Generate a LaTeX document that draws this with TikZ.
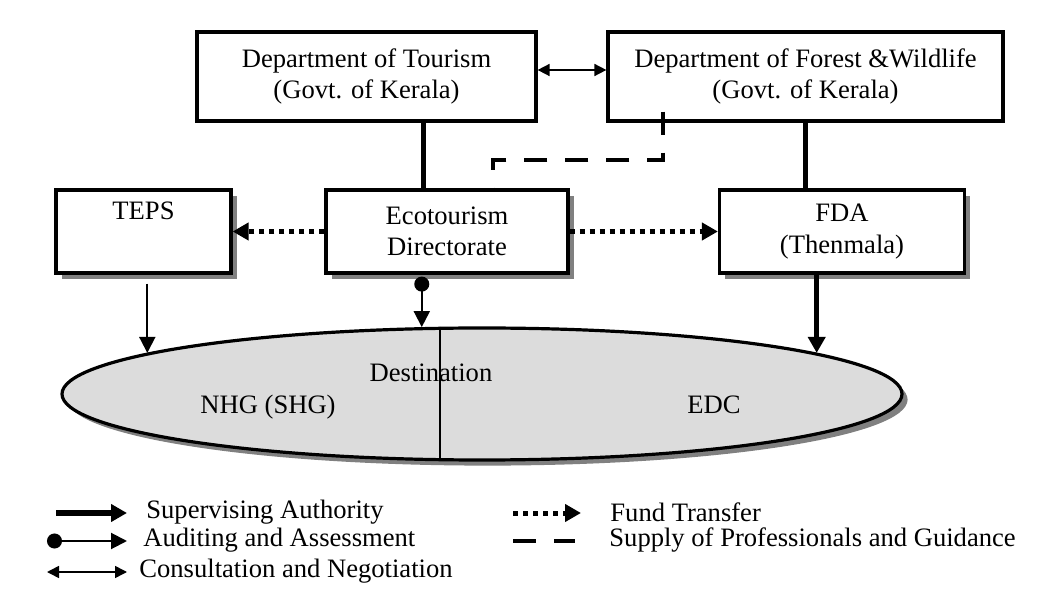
\documentclass[tikz,border=0pt]{standalone}
\usepackage{fontspec}
\setmainfont{Liberation Serif}
\usetikzlibrary{arrows.meta,positioning,calc,shapes.geometric,shadows}
\definecolor{destgray}{RGB}{220,220,220}

\begin{document}
\begin{tikzpicture}[x=0.5pt,y=-0.5pt,>=Latex,
 font=\fontsize{13.3}{15.8}\selectfont,
 deptbox/.style={draw,line width=1.6pt,align=center,minimum height=44.5pt,inner sep=2pt},
 unitbox/.style={deptbox,fill=white,minimum height=41.5pt,
   drop shadow={shadow xshift=2.8pt,shadow yshift=-2.8pt,fill=gray,opacity=1}},
 plain/.style={line width=2.5pt},
 super/.style={line width=2.5pt,-{Triangle[length=8pt,width=8.5pt]}},
 report/.style={line width=1pt,-{Triangle[length=8pt,width=8pt]}},
 audit/.style={line width=1pt,{Circle[length=7.5pt,width=7.5pt]}-{Triangle[length=8pt,width=8pt]}},
 consult/.style={line width=0.8pt,{Triangle[length=6pt,width=6pt]}-{Triangle[length=6pt,width=6pt]}},
 fund/.style={line width=2.5pt,dash pattern=on 2.5pt off 2.5pt,-{Triangle[length=8pt,width=8.5pt]}},
 supply/.style={line width=2pt,dash pattern=on 11.5pt off 9pt},
 legtext/.style={anchor=west,inner sep=0pt}]
\useasboundingbox (0,0) rectangle (1063,613);
% departments
\node[deptbox,minimum width=169.5pt] (tourism) at (366.5,76.5) {Department of Tourism\\(Govt. of Kerala)};
\node[deptbox,minimum width=197.5pt] (forest) at (805.5,76.5) {Department of Forest \&Wildlife\\(Govt. of Kerala)};
% second row
\node[unitbox,minimum width=87.5pt] (teps) at (143.5,231.5) {TEPS\\\strut};
\node[unitbox,minimum width=121pt] (eco) at (447,231.5) {Ecotourism\\Directorate};
\node[unitbox,minimum width=122.5pt] (fda) at (842,231.5) {FDA\\(Thenmala)};
% destination
\node[ellipse,draw,line width=1.6pt,fill=destgray,minimum width=420pt,minimum height=66pt,inner sep=0pt,
  drop shadow={shadow xshift=2.8pt,shadow yshift=-2.8pt,fill=gray,opacity=1}] (dest) at (482,394) {};
\draw[line width=1.4pt] (dest.122.6) -- (dest.-122.6);
\node (destlabel) at (431,373) {Destination};
\node (nhg) at (268,407) {NHG (SHG)};
\node (edc) at (714,405) {EDC};
\coordinate (tepstip) at (dest.173.95);
\coordinate (audittip) at (dest.132.07);
\coordinate (fdatip) at (dest.7.33);
% connectors
\draw[consult] ([yshift=3.25pt]tourism.east) -- ([yshift=3.25pt]forest.west);
\draw[plain] (tourism.south -| 423,0) -- (eco.north -| 423,0);
\draw[plain] (forest.south) -- (forest.south |- fda.north);
\draw[supply] ($(forest.south -| 663,0)+(0,-11)$) -- (663,160) -| (eco.north -| 493,0);
\draw[fund] (eco.west) -- (teps.east);
\draw[fund] (eco.east) -- (fda.west);
\draw[report] ($(teps.south -| tepstip)+(0,9)$) -- (tepstip);
\draw[audit] ($(eco.south -| audittip)+(0,2)$) -- (audittip);
\draw[super] (fda.south -| fdatip) -- (fdatip);
% legend
\coordinate (superA) at (56,513); \coordinate (superB) at (127,513);
\coordinate (auditA) at (47,541); \coordinate (auditB) at (127,541);
\coordinate (consultA) at (47,572); \coordinate (consultB) at (127,572);
\coordinate (fundA) at (513,513); \coordinate (fundB) at (581,513);
\coordinate (supplyA) at (513,541); \coordinate (supplyB) at (575,541);
\draw[super,line width=3pt] (superA) -- (superB);
\draw[audit] (auditA) -- (auditB);
\draw[consult] (consultA) -- (consultB);
\draw[fund] (fundA) -- (fundB);
\draw[supply] (supplyA) -- (supplyB);
\node[legtext] (superlabel) at (146,512) {Supervising Authority};
\node[legtext] (auditlabel) at (143,540) {Auditing and Assessment};
\node[legtext] (consultlabel) at (139,571) {Consultation and Negotiation};
\node[legtext] (fundlabel) at (610,512) {Fund Transfer};
\node[legtext] (supplylabel) at (609,540) {Supply of Professionals and Guidance};
\end{tikzpicture}
\end{document}
